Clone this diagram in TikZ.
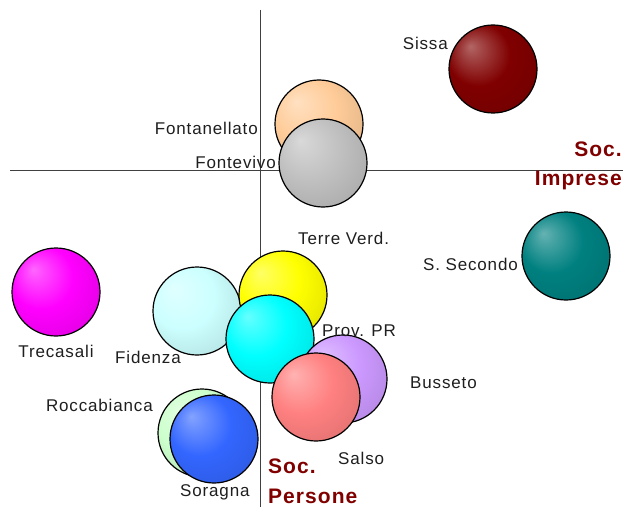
\documentclass[tikz,border=0pt]{standalone}
\usepackage{fontspec}
\setmainfont{Liberation Sans}
\newfontfamily\labfont[LetterSpace=5]{Liberation Sans}
\usetikzlibrary{positioning}

\definecolor{sissacol}{HTML}{800000}
\definecolor{fontacol}{HTML}{FFCC99}
\definecolor{fontvcol}{HTML}{C0C0C0}
\definecolor{terrecol}{HTML}{FFFF00}
\definecolor{secondocol}{HTML}{008080}
\definecolor{trecacol}{HTML}{FF00FF}
\definecolor{fidecol}{HTML}{CCFFFF}
\definecolor{provcol}{HTML}{00FFFF}
\definecolor{bussecol}{HTML}{CC99FF}
\definecolor{salsocol}{HTML}{FF8080}
\definecolor{roccacol}{HTML}{CCFFCC}
\definecolor{soragcol}{HTML}{3366FF}
\definecolor{axlabel}{HTML}{800000}
\colorlet{bub}{white}

\pgfdeclareradialshading[bub]{bubble}{\pgfpoint{-13bp}{13bp}}{%
  color(0bp)=(bub!60!white); color(5bp)=(bub!72!white);
  color(18bp)=(bub); color(36bp)=(bub!88!black); color(50bp)=(bub!74!black)}

\tikzset{
  bubble/.style={circle, draw=black, line width=1.2pt, minimum size=88pt,
    inner sep=0pt, /utils/exec={\colorlet{bub}{#1}}, shading=bubble},
  lab/.style={font=\labfont\fontsize{17}{19}\selectfont, text=black!88, inner sep=0pt},
  axlab/.style={font=\labfont\fontsize{21}{23}\selectfont\bfseries, text=axlabel, inner sep=0pt},
  axis/.style={draw=black!75, line width=0.9pt}
}

\begin{document}
\begin{tikzpicture}[x=1pt,y=-1pt]
\fill[white] (0,0) rectangle (623,508);
\useasboundingbox (0,0) rectangle (623,508);

% axes
\draw[axis] (10,170) -- (623,170);
\draw[axis] (260,10) -- (260,507);

% bubbles
\node[bubble=sissacol] (sissa) at (493,69) {};
\node[bubble=fontacol] (fontanellato) at (319,124) {};
\node[bubble=fontvcol] (fontevivo) at (323,163) {};
\node[bubble=secondocol] (secondo) at (566,256) {};
\node[bubble=trecacol] (trecasali) at (56,292) {};
\node[bubble=fidecol] (fidenza) at (197,311) {};
\node[bubble=terrecol] (terre) at (283,295) {};
\node[bubble=provcol] (prov) at (270,339) {};
\node[bubble=bussecol] (busseto) at (343,379) {};
\node[bubble=salsocol] (salso) at (316,397) {};
\node[bubble=roccacol] (roccab) at (202,433) {};
\node[bubble=soragcol] (soragna) at (214,439) {};

% labels
\node[lab, anchor=base east] (sissa-l) at (448,50) {Sissa};
\node[lab, anchor=base east] (fontanellato-l) at (258,134) {Fontanellato};
\node[lab, anchor=base east] (fontevivo-l) at (276,168) {Fontevivo};
\node[lab, anchor=base west] (terre-l) at (298,244) {Terre Verd.};
\node[lab, anchor=base east] (secondo-l) at (518,270) {S. Secondo};
\node[lab, anchor=base] (trecasali-l) at (56,357) {Trecasali};
\node[lab, anchor=base east] (fidenza-l) at (181,363) {Fidenza};
\node[lab, anchor=base west] (prov-l) at (322,336) {Prov. PR};
\node[lab, anchor=base west] (busseto-l) at (410,388) {Busseto};
\node[lab, anchor=base east] (roccab-l) at (153,411) {Roccabianca};
\node[lab, anchor=base west] (salso-l) at (338,464) {Salso};
\node[lab, anchor=base west] (soragna-l) at (180,496) {Soragna};

\node[axlab, anchor=base east] (imp1) at (622,156) {Soc.};
\node[axlab, anchor=base east] (imp2) at (622,185) {Imprese};
\node[axlab, anchor=base west] (pers1) at (268,473) {Soc.};
\node[axlab, anchor=base west] (pers2) at (268,503) {Persone};
\end{tikzpicture}
\end{document}
